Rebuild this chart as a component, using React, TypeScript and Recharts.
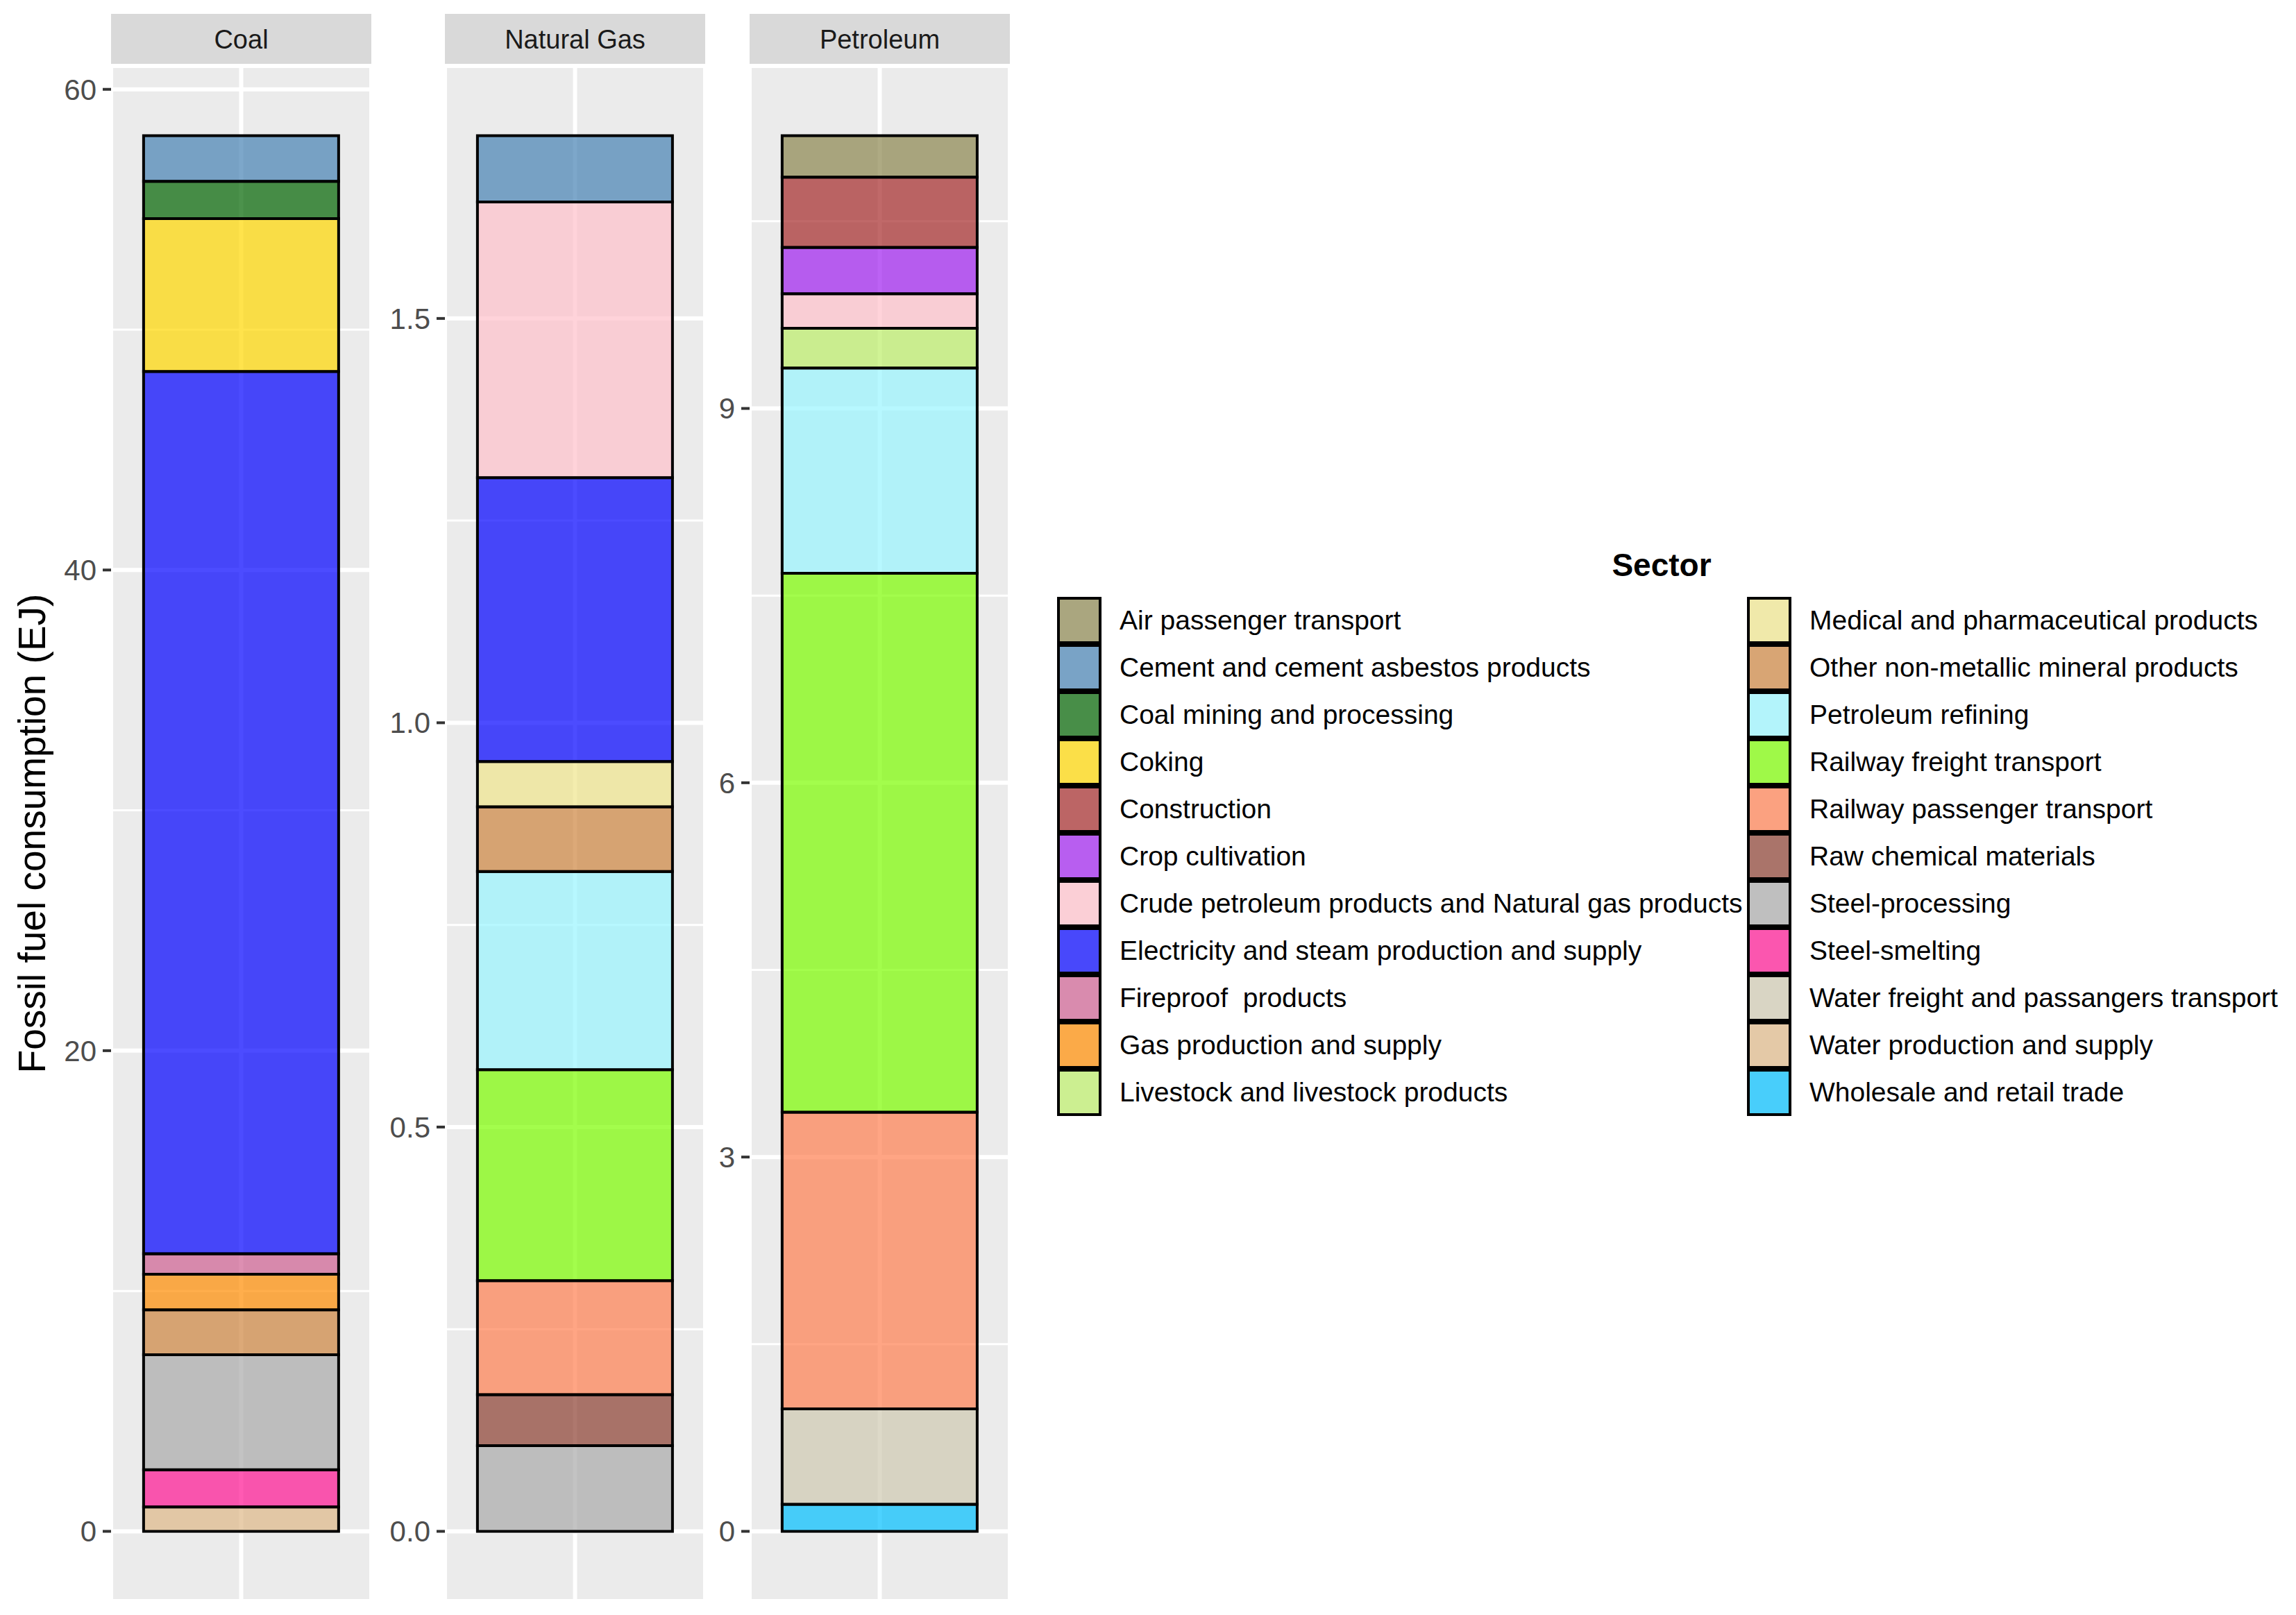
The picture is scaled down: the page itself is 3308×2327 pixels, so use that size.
import React from 'react';
import { BarChart, Bar, XAxis, YAxis, CartesianGrid } from 'recharts';

const fuels = ['Coal', 'Natural Gas', 'Petroleum'];

const sectors = [
  'Air passenger transport',
  'Cement and cement asbestos products',
  'Coal mining and processing',
  'Coking',
  'Construction',
  'Crop cultivation',
  'Crude petroleum products and Natural gas products',
  'Electricity and steam production and supply',
  'Fireproof  products',
  'Gas production and supply',
  'Livestock and livestock products',
  'Medical and pharmaceutical products',
  'Other non-metallic mineral products',
  'Petroleum refining',
  'Railway freight transport',
  'Railway passenger transport',
  'Raw chemical materials',
  'Steel-processing',
  'Steel-smelting',
  'Water freight and passangers transport',
  'Water production and supply',
  'Wholesale and retail trade',
];

const sectorColors = [
  '#8B864E', '#4682B4', '#006400', '#FFD700', '#A52A2A', '#A020F0',
  '#FFC0CB', '#0000FF', '#CE6092', '#FF8C00', '#BCEE68', '#F0E68C',
  '#CD853F', '#98F5FF', '#7CFC00', '#FF7F50', '#8B3E30', '#A9A9A9',
  '#FF1493', '#CEC9B0', '#DEB887', '#00BFFF',
];

// EJ per sector, same order as sectors
const coalValues = [0, 1.9, 1.55, 6.36, 0, 0, 0, 36.71, 0.85, 1.48, 0, 0, 1.87, 0, 0, 0, 0, 4.79, 1.54, 0, 1.02, 0];
const gasValues = [0, 0.082, 0, 0, 0, 0, 0.341, 0.351, 0, 0, 0, 0.056, 0.08, 0.245, 0.261, 0.141, 0.063, 0.106, 0, 0, 0, 0];
const petroleumValues = [0.332, 0, 0, 0, 0.563, 0.371, 0.277, 0, 0, 0, 0.319, 0, 0, 1.645, 4.319, 2.379, 0, 0, 0, 0.765, 0, 0.216];

const coalTicks = [0, 20, 40, 60];
const gasTicks = [0, 0.5, 1, 1.5];
const petroleumTicks = [0, 3, 6, 9];
const coalMinor = [10, 30, 50];
const gasMinor = [0.25, 0.75, 1.25];
const petroleumMinor = [1.5, 4.5, 7.5, 10.5];

const FONT = '"Liberation Sans", Arial, sans-serif';
const PANEL_TOP = 95;
const PANEL_H = 2212;
const PANEL_W = 375;
const AXIS_W = 140;
const STRIP_H = 75;

type PanelProps = {
  fuel: string;
  values: number[];
  ticks: number[];
  minor: number[];
  left: number;
  digits: number;
};

const Panel = ({ fuel, values, ticks, minor, left, digits }: PanelProps) => {
  const total = values.reduce((a, b) => a + b, 0);
  const row: Record<string, string | number> = { fuel };
  sectors.forEach((s, i) => { row[s] = values[i]; });

  return (
    <>
      <div style={{
        position: 'absolute', left, top: PANEL_TOP - STRIP_H, width: PANEL_W, height: STRIP_H,
        background: '#D9D9D9', color: '#1A1A1A', fontSize: 38, lineHeight: `${STRIP_H}px`,
        textAlign: 'center', fontFamily: FONT,
      }}>
        {fuel}
      </div>
      <div style={{ position: 'absolute', left: left - AXIS_W, top: PANEL_TOP - 20 }}>
        <BarChart
          width={AXIS_W + PANEL_W + 10}
          height={PANEL_H + 40}
          data={[row]}
          margin={{ top: 20, right: 10, bottom: 20, left: 0 }}
          barCategoryGap="12.5%"
        >
          <CartesianGrid fill="#EBEBEB" stroke="#FFFFFF" strokeWidth={3} vertical={false} horizontalValues={minor} />
          <CartesianGrid stroke="#FFFFFF" strokeWidth={6} />
          <XAxis dataKey="fuel" hide />
          <YAxis
            width={AXIS_W}
            domain={[-0.05 * total, 1.05 * total]}
            ticks={ticks}
            axisLine={false}
            tickSize={12}
            tickMargin={9}
            tickLine={{ stroke: '#333333', strokeWidth: 4 }}
            tickFormatter={(v: number) => v.toFixed(digits)}
            tick={{ fill: '#4D4D4D', fontSize: 42, fontFamily: FONT }}
          />
          {sectors.slice().reverse().map((s) => (
            <Bar
              key={s}
              dataKey={s}
              stackId="fuel"
              fill={sectorColors[sectors.indexOf(s)]}
              fillOpacity={0.7}
              stroke="#000000"
              strokeWidth={4}
              isAnimationActive={false}
            />
          ))}
        </BarChart>
      </div>
    </>
  );
};

const Legend = () => {
  const cols = [sectors.slice(0, 11), sectors.slice(11)];
  const colLeft = [1523, 2517];
  return (
    <>
      <div style={{
        position: 'absolute', left: 2394, top: 814, transform: 'translate(-50%, -50%)',
        fontSize: 46, fontWeight: 'bold', fontFamily: FONT, color: '#000',
      }}>
        Sector
      </div>
      {cols.map((col, c) => (
        <div key={c} style={{ position: 'absolute', left: colLeft[c], top: 860 }}>
          {col.map((s) => (
            <div key={s} style={{ display: 'flex', alignItems: 'center', height: 68 }}>
              <div style={{
                width: 64, height: 68, boxSizing: 'border-box', border: '4px solid #000',
                background: '#F2F2F2', position: 'relative',
              }}>
                <div style={{
                  position: 'absolute', inset: 0, background: sectorColors[sectors.indexOf(s)], opacity: 0.7,
                }} />
              </div>
              <div style={{
                marginLeft: 26, fontSize: 39, fontFamily: FONT, color: '#000', whiteSpace: 'pre',
              }}>
                {s}
              </div>
            </div>
          ))}
        </div>
      ))}
    </>
  );
};

export default function App() {
  const panels = [
    { values: coalValues, ticks: coalTicks, minor: coalMinor, left: 160, digits: 0 },
    { values: gasValues, ticks: gasTicks, minor: gasMinor, left: 641, digits: 1 },
    { values: petroleumValues, ticks: petroleumTicks, minor: petroleumMinor, left: 1080, digits: 0 },
  ];
  return (
    <div style={{ position: 'absolute', left: 0, top: 0, width: 3308, height: 2327, background: '#FFFFFF', overflow: 'hidden' }}>
      {panels.map((p, i) => (
        <Panel key={fuels[i]} fuel={fuels[i]} {...p} />
      ))}
      <div style={{
        position: 'absolute', left: 46, top: 1201, transform: 'translate(-50%, -50%) rotate(-90deg)',
        whiteSpace: 'nowrap', fontSize: 55, fontFamily: FONT, color: '#000',
      }}>
        Fossil fuel consumption (EJ)
      </div>
      <Legend />
    </div>
  );
}
